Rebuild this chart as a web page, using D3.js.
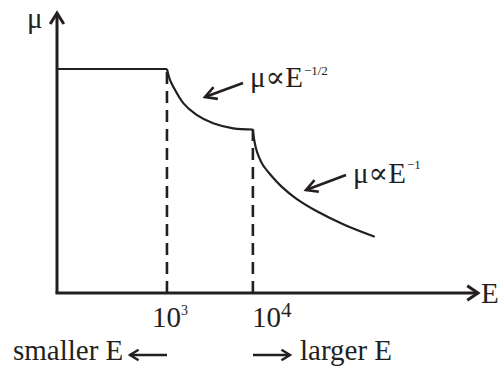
<!DOCTYPE html>
<html>
<head>
<meta charset="utf-8">
<script src="https://cdn.jsdelivr.net/npm/d3@7"></script>
<style>
  html, body { margin: 0; padding: 0; background: #fff; }
  svg { display: block; }
  text { font-family: "Liberation Serif", "Times New Roman", "DejaVu Serif", serif; fill: #231f20; }
</style>
</head>
<body>
<svg id="chart" width="499" height="370"></svg>
<script>
// Energy range shown on the horizontal (log) axis
const energyDomain = [52.5, 4.17e6];
const muDomain = [0, 10];

// Constant mobility at low energy
const flatMu = 8.0;

// mu ~ E^-1/2 region (10^3 .. 10^4)
const halfE  = [1000, 1084, 1183, 1549, 2213, 3451, 5902, 10000];
const halfMu = [8.0, 7.61, 7.37, 6.78, 6.36, 6.06, 5.88, 5.84];

// mu ~ E^-1 region (10^4 upward)
const invE  = [10000, 10271, 10837, 11744, 13069, 15767, 21740, 31623, 57000, 117440, 262100];
const invMu = [5.84, 5.54, 5.18, 4.86, 4.57, 4.25, 3.79, 3.38, 2.90, 2.43, 2.01];

// Threshold energies marked with dashed lines
const tickE = [1e3, 1e4];
const tickBase = ["10", "10"];
const tickExp = ["3", "4"];

const svg = d3.select("#chart");
const ink = "#231f20";

const x = d3.scaleLog().domain(energyDomain).range([57, 478]);
const y = d3.scaleLinear().domain(muDomain).range([293, 13]);

// Axes (lines only; labels drawn separately)
const xAxis = d3.axisBottom(x).tickValues([]).tickSize(0).tickSizeOuter(0);
const yAxis = d3.axisLeft(y).tickValues([]).tickSize(0).tickSizeOuter(0);

const gx = svg.append("g").attr("transform", `translate(0,${y(0)})`).call(xAxis);
gx.select(".domain").attr("stroke", ink).attr("stroke-width", 3)
  .attr("d", `M${x.range()[0] - 1.5},0H${x.range()[1]}`);
const gy = svg.append("g").attr("transform", `translate(${x(energyDomain[0])},0)`).call(yAxis);
gy.select(".domain").attr("stroke", ink).attr("stroke-width", 3)
  .attr("d", `M0,${y.range()[0]}V${y.range()[1] + 1}`);

// Open arrowheads
function chevron(tx, ty, angle, len, spread, width) {
  const a1 = angle + Math.PI - spread, a2 = angle + Math.PI + spread;
  svg.append("path")
    .attr("d", `M${tx + len * Math.cos(a1)},${ty + len * Math.sin(a1)}L${tx},${ty}L${tx + len * Math.cos(a2)},${ty + len * Math.sin(a2)}`)
    .attr("fill", "none").attr("stroke", ink).attr("stroke-width", width)
    .attr("stroke-linejoin", "miter").attr("stroke-linecap", "butt");
}
chevron(x.range()[1], y(0), 0, 13, 0.6, 3);
chevron(x(energyDomain[0]), y.range()[1], -Math.PI / 2, 13, 0.55, 3);

// Dashed markers from the curve down to the energy axis
const markerMu = [flatMu, halfMu[halfMu.length - 1]];
svg.selectAll("line.marker").data(tickE).join("line")
  .attr("class", "marker")
  .attr("x1", d => x(d)).attr("x2", d => x(d))
  .attr("y1", y(0)).attr("y2", (d, i) => y(markerMu[i]))
  .attr("stroke", ink).attr("stroke-width", 2.6)
  .attr("stroke-dasharray", "12,7");

// Mobility curve
const line = d3.line().x(d => x(d[0])).y(d => y(d[1])).curve(d3.curveCatmullRom.alpha(0.5));
const curveStyle = sel => sel.attr("fill", "none").attr("stroke", ink)
  .attr("stroke-width", 2.2).attr("stroke-linejoin", "round");

svg.append("path").datum([[energyDomain[0], flatMu], [tickE[0], flatMu]])
  .attr("d", d3.line().x(d => x(d[0])).y(d => y(d[1]))).call(curveStyle);
svg.append("path").datum(halfE.map((e, i) => [e, halfMu[i]])).attr("d", line).call(curveStyle);
svg.append("path").datum(invE.map((e, i) => [e, invMu[i]])).attr("d", line).call(curveStyle);

// Tick labels 10^3 and 10^4
const labelShift = [-15, -1];
const expStyle = [{ size: 14, dy: -12 }, { size: 21, dy: -10 }];
tickE.forEach((e, i) => {
  const t = svg.append("text")
    .attr("x", x(e) + labelShift[i]).attr("y", 327)
    .attr("font-size", 29);
  t.append("tspan").text(tickBase[i]);
  t.append("tspan").attr("font-size", expStyle[i].size).attr("dy", expStyle[i].dy).text(tickExp[i]);
});

// Axis titles
svg.append("text").attr("x", 27).attr("y", 28).attr("font-size", 29).text("μ");
svg.append("text").attr("x", 481).attr("y", 303).attr("font-size", 29).text("E");

// Power-law annotations with pointing arrows
function annotation(tx, ty, exp, supDy, tail, tip) {
  const t = svg.append("text").attr("x", tx).attr("y", ty).attr("font-size", 29);
  t.append("tspan").text("μ∝E");
  t.append("tspan").attr("font-size", 13).attr("dy", supDy).attr("dx", 1).text(exp);
  svg.append("line")
    .attr("x1", tail[0]).attr("y1", tail[1]).attr("x2", tip[0]).attr("y2", tip[1])
    .attr("stroke", ink).attr("stroke-width", 2.6);
  chevron(tip[0], tip[1], Math.atan2(tip[1] - tail[1], tip[0] - tail[0]), 13, 0.5, 2.6);
}
annotation(250, 87, "−1/2", -12, [243, 83], [205, 97]);
annotation(353, 183, "−1", -14, [346, 175], [306, 190]);

// Direction hints under the axis
svg.append("text").attr("x", 13).attr("y", 360).attr("font-size", 29).text("smaller E");
svg.append("text").attr("x", 300).attr("y", 360).attr("font-size", 29).text("larger E");
svg.append("line").attr("x1", 167).attr("x2", 130).attr("y1", 355).attr("y2", 355)
  .attr("stroke", ink).attr("stroke-width", 2.4);
chevron(130, 355, Math.PI, 10, 0.55, 2.4);
svg.append("line").attr("x1", 253).attr("x2", 290).attr("y1", 355).attr("y2", 355)
  .attr("stroke", ink).attr("stroke-width", 2.4);
chevron(290, 355, 0, 10, 0.55, 2.4);
</script>
</body>
</html>
